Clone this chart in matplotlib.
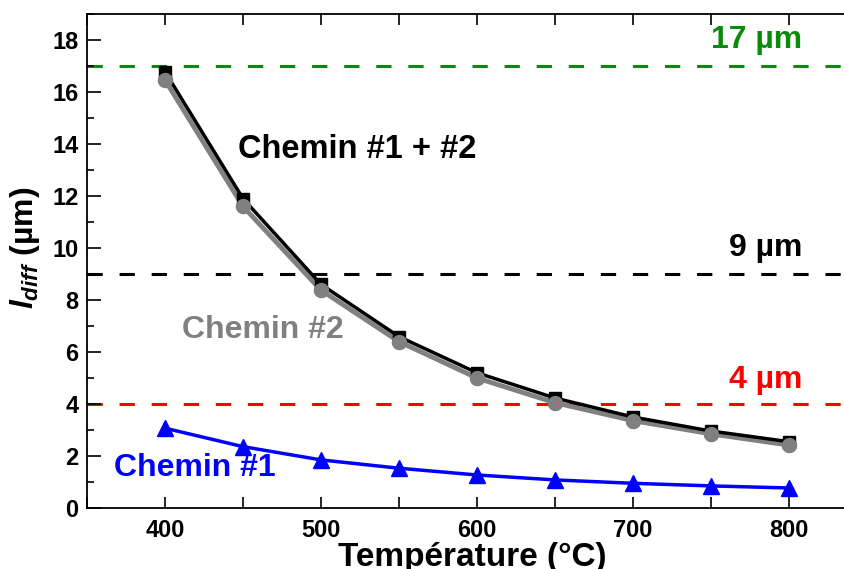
import matplotlib
matplotlib.use("Agg")  # headless
import matplotlib.pyplot as plt
from matplotlib.ticker import MultipleLocator

plt.rcParams["font.family"] = ["Liberation Sans", "DejaVu Sans"]
plt.rcParams["font.weight"] = "bold"
plt.rcParams["mathtext.fontset"] = "custom"
plt.rcParams["mathtext.it"] = "Liberation Sans:italic:bold"
plt.rcParams["mathtext.rm"] = "Liberation Sans:bold"

# Data
temperature = [400, 450, 500, 550, 600, 650, 700, 750, 800]
chemin_1_2 = [16.78, 11.9, 8.6, 6.59, 5.2, 4.23, 3.5, 2.96, 2.55]
chemin_2 = [16.46, 11.6, 8.38, 6.4, 5.0, 4.05, 3.36, 2.85, 2.42]
chemin_1 = [3.07, 2.36, 1.85, 1.53, 1.27, 1.08, 0.95, 0.85, 0.77]

# reference lengths (um)
ref_levels = [17, 9, 4]
ref_labels = ["17 µm", "9 µm", "4 µm"]
ref_colors = ["#0a8a0a", "black", "#ff0000"]
ref_label_pos = [(779, 18.0), (785, 10.0), (785, 4.92)]

fig = plt.figure(figsize=(8.45, 5.69), dpi=100)
# right spine sits outside the picture in the reference
ax = fig.add_axes([87 / 845, 61 / 569, 780 / 845, 494 / 569])

for lvl, lab, col, pos in zip(ref_levels, ref_labels, ref_colors, ref_label_pos):
    ax.axhline(lvl, color=col, lw=2.2, dashes=(5, 5.5), zorder=1)
    ax.text(pos[0], pos[1], lab, color=col, fontsize=23, fontweight="bold",
            ha="center", va="center")

ax.plot(temperature, chemin_2, color="#808080", lw=3.5, marker="o",
        markersize=10, zorder=2)
ax.plot(temperature, chemin_1_2, color="black", lw=2.5, marker="s",
        markersize=8, zorder=3)
ax.plot(temperature, chemin_2, color="#808080", lw=0, marker="o",
        markersize=10, zorder=4)
ax.plot(temperature, chemin_1, color="#0000ff", lw=2.5, marker="^",
        markersize=11, zorder=3)

ax.text(523, 13.8, "Chemin #1 + #2", color="black", fontsize=23.5,
        fontweight="bold", ha="center", va="center")
ax.text(463, 6.85, "Chemin #2", color="#808080", fontsize=23,
        fontweight="bold", ha="center", va="center")
ax.text(419, 1.55, "Chemin #1", color="#0000ff", fontsize=23,
        fontweight="bold", ha="center", va="center")

ax.set_xlim(350, 850)
ax.set_ylim(0, 19)
ax.xaxis.set_major_locator(MultipleLocator(100))
ax.xaxis.set_minor_locator(MultipleLocator(50))
ax.yaxis.set_major_locator(MultipleLocator(2))
ax.yaxis.set_minor_locator(MultipleLocator(1))
ax.tick_params(which="both", direction="in", top=True, right=False, width=1.2)
ax.tick_params(which="major", length=8, labelsize=17, pad=8)
ax.tick_params(which="minor", length=4)
ax.tick_params(axis="y", which="major", length=10, pad=6)
ax.tick_params(axis="y", which="minor", length=5)
ax.tick_params(axis="x", which="minor", top=True, length=8)
for lab in ax.get_xticklabels() + ax.get_yticklabels():
    lab.set_fontweight("bold")
for sp in ax.spines.values():
    sp.set_linewidth(1.3)
ax.spines["right"].set_visible(False)

ax.set_xlabel("Température (°C)", fontsize=24, fontweight="bold")
ax.xaxis.set_label_coords(0.4936, -0.068)
ax.set_ylabel("$l_{diff}$ (µm)", fontsize=23, fontweight="bold")
ax.yaxis.set_label_coords(-0.058, 0.526)

fig.savefig("out.png", dpi=100)
